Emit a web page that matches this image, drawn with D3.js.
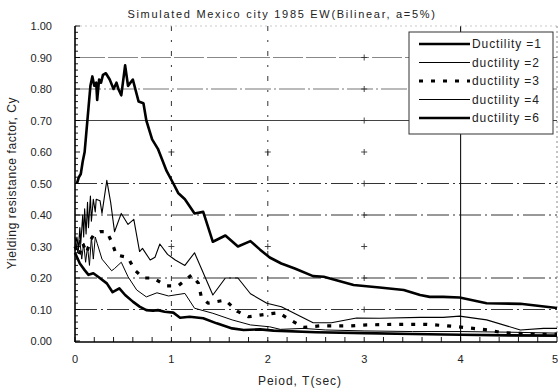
<!DOCTYPE html>
<html><head><meta charset="utf-8">
<script src="https://cdn.jsdelivr.net/npm/d3@7"></script>
<style>
body{margin:0;background:#fff;}
svg{display:block;font-family:"Liberation Sans",Arial,sans-serif;}
</style></head>
<body><svg id="c" width="558" height="392"></svg>
<script>
const title = "Simulated Mexico city 1985 EW(Bilinear, a=5%)";
const xLabel = "Peiod, T(sec)";
const yLabel = "Yielding resistance factor, Cy";
const xTicks = [0,1,2,3,4,5];
const yTicks = [0,0.1,0.2,0.3,0.4,0.5,0.6,0.7,0.8,0.9,1.0];
const seriesNames = ["Ductility =1","ductility =2","ductility =3","ductility =4","ductility =6"];

const duct1 = [[0.02,0.50],[0.04,0.52],[0.06,0.53],[0.08,0.57],[0.10,0.60],[0.12,0.67],[0.14,0.74],[0.16,0.81],[0.18,0.84],[0.20,0.81],[0.22,0.82],[0.23,0.765],[0.25,0.83],[0.27,0.82],[0.29,0.845],[0.32,0.85],[0.36,0.83],[0.40,0.80],[0.43,0.82],[0.45,0.80],[0.48,0.78],[0.52,0.875],[0.55,0.81],[0.60,0.83],[0.66,0.76],[0.71,0.755],[0.74,0.70],[0.80,0.64],[0.86,0.61],[0.95,0.54],[1.02,0.50],[1.07,0.47],[1.14,0.45],[1.24,0.405],[1.33,0.41],[1.43,0.315],[1.56,0.335],[1.69,0.30],[1.82,0.317],[1.92,0.29],[2.02,0.265],[2.14,0.246],[2.28,0.23],[2.47,0.206],[2.58,0.204],[2.89,0.178],[3.16,0.17],[3.41,0.162],[3.58,0.146],[3.68,0.14],[3.82,0.14],[3.99,0.138],[4.27,0.12],[4.62,0.118],[5.0,0.105]];
const duct2 = [[0,0.30],[0.02,0.33],[0.035,0.29],[0.05,0.36],[0.06,0.31],[0.08,0.40],[0.09,0.33],[0.10,0.42],[0.115,0.34],[0.13,0.44],[0.14,0.36],[0.16,0.46],[0.17,0.38],[0.19,0.45],[0.21,0.41],[0.22,0.45],[0.26,0.445],[0.28,0.405],[0.33,0.51],[0.37,0.44],[0.41,0.347],[0.48,0.405],[0.55,0.37],[0.61,0.386],[0.67,0.284],[0.70,0.294],[0.78,0.257],[0.83,0.266],[0.88,0.308],[0.96,0.275],[1.04,0.257],[1.14,0.24],[1.24,0.28],[1.43,0.146],[1.56,0.20],[1.69,0.20],[1.82,0.15],[1.99,0.12],[2.14,0.109],[2.47,0.058],[2.66,0.058],[2.92,0.073],[3.16,0.072],[3.58,0.075],[3.82,0.075],[3.99,0.079],[4.27,0.067],[4.62,0.035],[4.86,0.04],[5.0,0.04]];
const duct3 = [[0,0.30],[0.04,0.27],[0.08,0.31],[0.12,0.28],[0.16,0.32],[0.20,0.34],[0.26,0.347],[0.33,0.347],[0.38,0.315],[0.43,0.273],[0.55,0.265],[0.62,0.225],[0.71,0.20],[0.81,0.20],[0.95,0.175],[1.07,0.175],[1.21,0.21],[1.28,0.183],[1.31,0.14],[1.38,0.12],[1.56,0.13],[1.68,0.095],[1.80,0.077],[1.94,0.083],[2.11,0.09],[2.25,0.064],[2.37,0.043],[2.54,0.048],[2.85,0.048],[3.03,0.051],[3.34,0.053],[3.65,0.053],[3.82,0.049],[3.98,0.045],[4.13,0.04],[4.29,0.035],[4.44,0.026],[4.62,0.024],[4.79,0.021],[5.0,0.022]];
const duct4 = [[0,0.33],[0.03,0.28],[0.05,0.32],[0.07,0.26],[0.09,0.31],[0.11,0.25],[0.13,0.30],[0.15,0.24],[0.17,0.33],[0.19,0.26],[0.21,0.33],[0.23,0.31],[0.28,0.26],[0.38,0.223],[0.41,0.23],[0.48,0.25],[0.55,0.204],[0.64,0.162],[0.74,0.14],[0.85,0.153],[0.97,0.143],[1.14,0.151],[1.24,0.104],[1.43,0.088],[1.63,0.067],[1.82,0.051],[2.02,0.045],[2.13,0.037],[2.37,0.04],[2.6,0.035],[3.0,0.032],[3.5,0.03],[4.0,0.03],[4.5,0.028],[5.0,0.025]];
const duct6 = [[0,0.28],[0.05,0.246],[0.10,0.225],[0.14,0.21],[0.19,0.215],[0.24,0.204],[0.33,0.183],[0.39,0.155],[0.46,0.167],[0.52,0.146],[0.60,0.125],[0.67,0.109],[0.74,0.098],[0.81,0.096],[0.86,0.098],[0.93,0.093],[1.02,0.09],[1.09,0.074],[1.19,0.077],[1.33,0.072],[1.47,0.056],[1.63,0.04],[1.75,0.035],[1.92,0.037],[2.06,0.033],[2.5,0.028],[3.0,0.025],[3.5,0.022],[4.0,0.02],[4.5,0.018],[5.0,0.017]];

const seriesData = [duct1,duct2,duct3,duct4,duct6];
const styles = [
  {w:2.6,dash:null},
  {w:1.1,dash:null},
  {w:3.2,dash:"4,8"},
  {w:1.0,dash:null},
  {w:2.6,dash:null}
];

const svg = d3.select("#c");
const L=75, R=557, T=26, B=341;
const x = d3.scaleLinear().domain([0,5]).range([L,R]);
const y = d3.scaleLinear().domain([0,1]).range([B,T]);

// grid
const g = svg.append("g");
const hStyles = {
  0.1:{c:"#333",d:"22,4,2,4",w:1},
  0.2:{c:"#333",d:"22,4,2,4",w:1},
  0.4:{c:"#333",d:"22,4,2,4",w:1},
  0.5:{c:"#333",d:"22,4,2,4",w:1},
  0.7:{c:"#444",d:null,w:1.2},
  0.8:{c:"#777",d:"26,3,2,3",w:1.2},
  0.9:{c:"#888",d:"30,3",w:1.2}
};
Object.keys(hStyles).forEach(k=>{
  const s=hStyles[k];
  g.append("line").attr("x1",x(0)).attr("x2",x(5)).attr("y1",y(+k)).attr("y2",y(+k))
   .attr("stroke",s.c).attr("stroke-width",s.w).attr("stroke-dasharray",s.d);
});
[1,2].forEach(v=>{
  g.append("line").attr("x1",x(v)).attr("x2",x(v)).attr("y1",y(1)).attr("y2",y(0))
   .attr("stroke","#333").attr("stroke-width",1).attr("stroke-dasharray","5,9,2,9");
});
g.append("line").attr("x1",x(4)).attr("x2",x(4)).attr("y1",y(1)).attr("y2",y(0))
 .attr("stroke","#111").attr("stroke-width",1.1);
g.append("line").attr("x1",x(5)).attr("x2",x(5)).attr("y1",y(1)).attr("y2",y(0))
 .attr("stroke","#888").attr("stroke-width",1).attr("stroke-dasharray","2,3");
g.append("line").attr("x1",x(0)).attr("x2",x(5)).attr("y1",y(1)).attr("y2",y(1))
 .attr("stroke","#bbb").attr("stroke-width",0.8).attr("stroke-dasharray","2,3");
// plus marks
const plusPts=[];
[1,2,3].forEach(a=>[0.3,0.6].forEach(b=>plusPts.push([a,b])));
[0.1,0.2,0.4,0.5,0.7,0.8,0.9].forEach(b=>plusPts.push([3,b]));
plusPts.forEach(p=>{
  g.append("path").attr("d",`M${x(p[0])-3},${y(p[1])}h6M${x(p[0])},${y(p[1])-3}v6`)
   .attr("stroke","#333").attr("stroke-width",0.9).attr("fill","none");
});

// series
const line = d3.line().x(d=>x(d[0])).y(d=>y(d[1]));
seriesData.forEach((d,i)=>{
  svg.append("path").datum(d).attr("d",line).attr("fill","none")
    .attr("stroke","#000").attr("stroke-width",styles[i].w)
    .attr("stroke-dasharray",styles[i].dash).attr("stroke-linejoin","round");
});

// axes
const ax = svg.append("g");
ax.append("line").attr("x1",L).attr("x2",L).attr("y1",T).attr("y2",B+1).attr("stroke","#000").attr("stroke-width",1.6);
ax.append("line").attr("x1",L).attr("x2",R).attr("y1",B+1).attr("y2",B+1).attr("stroke","#000").attr("stroke-width",1.6);
d3.range(0,1.0001,0.02).forEach(v=>{
  const major = Math.abs(v*10-Math.round(v*10))<1e-6;
  ax.append("line").attr("x1",L).attr("x2",L+(major?5:3)).attr("y1",y(v)).attr("y2",y(v)).attr("stroke","#000").attr("stroke-width",0.9);
});
d3.range(0,5.0001,0.2).forEach(v=>{
  ax.append("line").attr("x1",x(v)).attr("x2",x(v)).attr("y1",B+1).attr("y2",B-4).attr("stroke","#000").attr("stroke-width",0.9);
});
ax.selectAll(".yl").data(yTicks).enter().append("text")
  .attr("x",52).attr("y",d=>y(d)+4).attr("text-anchor","end")
  .attr("font-size",11).attr("fill","#222").text(d=>d.toFixed(2));
ax.selectAll(".xl").data(xTicks).enter().append("text")
  .attr("x",d=>d===5?558:x(d)).attr("y",363).attr("text-anchor",d=>d===5?"end":"middle")
  .attr("font-size",11).attr("fill","#222").text(d=>d);

svg.append("text").attr("x",300).attr("y",385).attr("text-anchor","middle")
  .attr("font-size",12).attr("letter-spacing",1).attr("fill","#222").text(xLabel);
svg.append("text").attr("transform","translate(16,183) rotate(-90)").attr("text-anchor","middle")
  .attr("font-size",12).attr("letter-spacing",0.6).attr("fill","#222").text(yLabel);
svg.append("text").attr("x",282).attr("y",18).attr("text-anchor","middle")
  .attr("font-size",11).attr("letter-spacing",1.7).attr("fill","#222").text(title);

// legend
const lg = svg.append("g");
lg.append("rect").attr("x",409).attr("y",32).attr("width",144).attr("height",102)
  .attr("fill","#fff").attr("stroke","#333").attr("stroke-width",1);
seriesNames.forEach((n,i)=>{
  const yy = 44 + i*18.5;
  lg.append("line").attr("x1",419).attr("x2",470).attr("y1",yy).attr("y2",yy)
    .attr("stroke","#000").attr("stroke-width",styles[i].w).attr("stroke-dasharray",styles[i].dash);
  lg.append("text").attr("x",472).attr("y",yy+4).attr("font-size",12)
    .attr("letter-spacing",0.9).attr("fill","#222").text(n);
});
</script></body></html>
